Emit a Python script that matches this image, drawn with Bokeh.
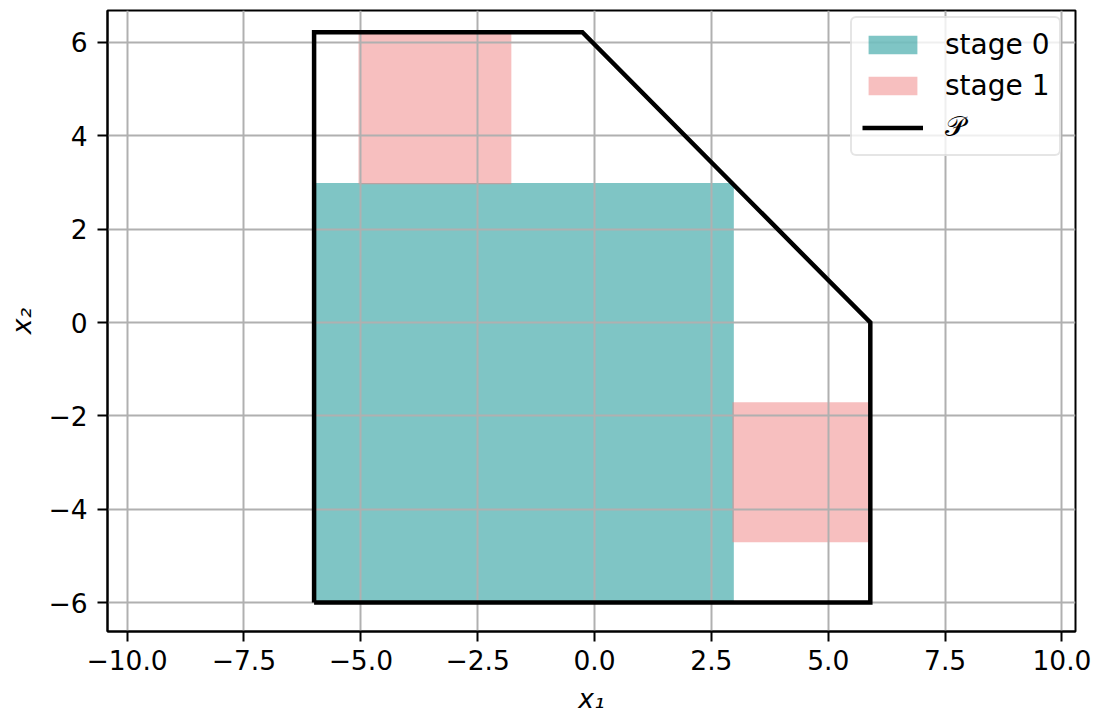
from bokeh.plotting import figure
from bokeh.models import Range1d, FixedTicker, Legend, LegendItem
from bokeh.embed import file_html
from bokeh.resources import INLINE

# Polytope P (closed outline)
poly_x1 = [-6.0, -6.0, -0.26, 5.9, 5.9, -6.0]
poly_x2 = [-6.0, 6.22, 6.22, 0.0, -6.0, -6.0]

# Stage 0 box
stage0_left = [-6.0]
stage0_right = [2.98]
stage0_bottom = [-6.0]
stage0_top = [2.99]

# Stage 1 boxes
stage1_left = [-5.05, 2.95]
stage1_right = [-1.78, 5.85]
stage1_bottom = [2.96, -4.71]
stage1_top = [6.2, -1.71]

x_ticks = [-10.0, -7.5, -5.0, -2.5, 0.0, 2.5, 5.0, 7.5, 10.0]
x_tick_labels = ["\u221210.0", "\u22127.5", "\u22125.0", "\u22122.5", "0.0", "2.5", "5.0", "7.5", "10.0"]
y_ticks = [-6, -4, -2, 0, 2, 4, 6]
y_tick_labels = ["\u22126", "\u22124", "\u22122", "0", "2", "4", "6"]

FONT = "DejaVu Sans"
FS = "26.5px"

p = figure(width=1100, height=722, output_backend="svg", toolbar_location=None,
           x_range=Range1d(-10.42, 10.29), y_range=Range1d(-6.62, 6.685),
           min_border_left=107, min_border_right=25, min_border_top=10, min_border_bottom=91)
p.background_fill_color = "white"
p.border_fill_color = "white"
p.outline_line_color = "black"
p.outline_line_width = 2

r0 = p.quad(left=stage0_left, right=stage0_right, bottom=stage0_bottom, top=stage0_top,
            fill_color="darkcyan", fill_alpha=0.5, line_color=None, level="image")
r1 = p.quad(left=stage1_left, right=stage1_right, bottom=stage1_bottom, top=stage1_top,
            fill_color="lightcoral", fill_alpha=0.5, line_color=None, level="image")
rp = p.line(poly_x1, poly_x2, line_color="black", line_width=4.5, line_join="miter")

for ax in (p.xaxis[0], p.yaxis[0]):
    ax.axis_line_width = 2
    ax.major_tick_line_width = 2
    ax.major_tick_out = 10
    ax.major_tick_in = 0
    ax.minor_tick_line_color = None
    ax.major_label_text_font = FONT
    ax.major_label_text_font_size = FS
    ax.major_label_text_color = "black"
    ax.axis_label_text_font = FONT
    ax.axis_label_text_font_size = FS
    ax.axis_label_text_font_style = "italic"
    ax.axis_label_text_color = "black"

p.xaxis.ticker = FixedTicker(ticks=x_ticks)
p.xaxis.major_label_overrides = dict(zip(x_ticks, x_tick_labels))
p.yaxis.ticker = FixedTicker(ticks=y_ticks)
p.yaxis.major_label_overrides = dict(zip(y_ticks, y_tick_labels))
p.xaxis.axis_label = "x\u2081"
p.yaxis.axis_label = "x\u2082"
p.xaxis.major_label_standoff = 8
p.yaxis.major_label_standoff = 10
p.xaxis.axis_label_standoff = 10
p.yaxis.axis_label_standoff = 8

p.grid.grid_line_color = "#b0b0b0"
p.grid.grid_line_width = 2
p.xgrid.ticker = FixedTicker(ticks=x_ticks)
p.ygrid.ticker = FixedTicker(ticks=y_ticks)

legend = Legend(items=[LegendItem(label="stage 0", renderers=[r0]),
                       LegendItem(label="stage 1", renderers=[r1]),
                       LegendItem(label="\U0001D4AB", renderers=[rp])],
                location=(743, 475))
legend.label_text_font = FONT
legend.label_text_font_size = "28px"
legend.label_text_color = "black"
legend.glyph_width = 61
legend.glyph_height = 23
legend.label_standoff = 22
legend.padding = 10
legend.spacing = 8
legend.margin = 0
legend.border_line_color = "#cccccc"
legend.border_line_width = 2
legend.border_radius = 6
legend.background_fill_alpha = 0.8
p.add_layout(legend, "center")

open("out.html", "w").write(file_html(p, INLINE))
